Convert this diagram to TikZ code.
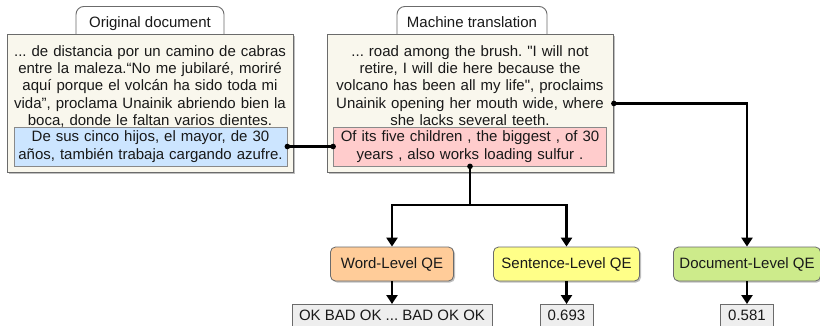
\documentclass[tikz,border=0pt]{standalone}
\usepackage{fontspec}
\setmainfont{Liberation Sans}[Ligatures=TeXOff]
\usepackage{xcolor}
\usepackage{tikz}
\usetikzlibrary{arrows.meta,shadows}
\frenchspacing
\definecolor{paper}{HTML}{F9F7ED}
\definecolor{edge}{HTML}{6B6B6B}
\definecolor{srcblue}{HTML}{CCE5FF}
\definecolor{mtpink}{HTML}{FFCCCC}
\definecolor{wordorange}{HTML}{FFCC99}
\definecolor{sentyellow}{HTML}{FFFF88}
\definecolor{docgreen}{HTML}{CDEB8B}
\definecolor{outgray}{HTML}{EEEEEE}
\tikzset{
  txt/.style={font=\fontsize{15}{17.4}\selectfont, text=black!90},
  shade/.style={drop shadow={shadow xshift=1.5pt, shadow yshift=-1.5pt, opacity=0.25, fill=black}},
  tabbox/.style={txt, draw=edge, fill=white, line width=0.9pt, rounded corners=8pt,
    anchor=north, inner xsep=0pt, inner ysep=10pt, text height=11pt, text depth=20pt},
  docbox/.style={draw=edge, fill=paper, line width=0.9pt, anchor=north west,
    minimum width=286pt, minimum height=138pt, shade},
  para/.style={txt, anchor=north, inner sep=0pt, text width=280pt, align=center},
  sentbox/.style={txt, draw=edge!80, line width=0.7pt, minimum width=273pt,
    minimum height=39pt, inner sep=0pt, text width=273pt, align=center},
  qebox/.style={txt, draw=edge, line width=0.8pt, rounded corners=5pt,
    minimum height=34pt, inner sep=0pt, shade},
  outbox/.style={txt, draw=edge, fill=outgray, line width=0.8pt, anchor=north,
    minimum height=22pt, inner sep=0pt},
  link/.style={draw=black, line width=2.4pt},
  arr/.style={link, -{Triangle[length=9pt, width=11pt]}},
  dotr/.style={fill=black},
}
\begin{document}
\begin{tikzpicture}[x=1pt, y=-1pt]
  \useasboundingbox[fill=white] (0,0) rectangle (820,325);

  % tabs behind the document boxes
  \node[tabbox, minimum width=148pt] (origtab) at (150,6) {Original document};
  \node[tabbox, minimum width=150pt] (mttab) at (472,6) {Machine translation};

  \node[docbox] (origbox) at (7,34) {};
  \node[docbox] (mtbox) at (327,34) {};

  \node[para] (origtxt) at (150,45) {... de distancia por un camino de cabras\\
    entre la maleza.“No me jubilaré, moriré\\
    aquí porque el volcán ha sido toda mi\\
    vida”, proclama Unainik abriendo bien la\\
    boca, donde le faltan varios dientes.};
  \node[para] (mttxt) at (470,45) {... road among the brush. "I will not\\
    retire, I will die here because the\\
    volcano has been all my life", proclaims\\
    Unainik opening her mouth wide, where\\
    she lacks several teeth.};

  \node[sentbox, fill=srcblue] (origsent) at (150.5,146.5)
    {De sus cinco hijos, el mayor, de 30\\ años, también trabaja cargando azufre.};
  \node[sentbox, fill=mtpink] (mtsent) at (470,146.5)
    {Of its five children , the biggest , of 30\\ years , also works loading sulfur .};

  \node[qebox, fill=wordorange, minimum width=123pt] (wordqe) at (392,264) {Word-Level QE};
  \node[qebox, fill=sentyellow, minimum width=146pt] (sentqe) at (566.5,264) {Sentence-Level QE};
  \node[qebox, fill=docgreen, minimum width=147pt] (docqe) at (747,264) {Document-Level QE};

  \node[outbox, minimum width=200pt] (wordout) at (392,304) {OK BAD OK ... BAD OK OK};
  \node[outbox, minimum width=53pt] (sentout) at (566.5,304) {0.693};
  \node[outbox, minimum width=53pt] (docout) at (747,304) {0.581};

  \coordinate (split) at (470,205);

  \draw[link] (origsent.east) -- (mtsent.west);
  \draw[link] (mtsent.south) -- (split);
  \draw[arr] (split) -| (wordqe.north);
  \draw[arr] (split) -| (sentqe.north);
  \draw[arr] (mtbox.east) -| (docqe.north);

  \draw[arr] (wordqe) -- (wordout);
  \draw[arr] (sentqe) -- (sentout);
  \draw[arr] (docqe) -- (docout);

  \fill[dotr] (origsent.east) circle (2.8);
  \fill[dotr] (mtsent.west) circle (2.8);
  \fill[dotr] (mtsent.south) circle (2.8);
  \fill[dotr] (mtbox.east) circle (2.8);
\end{tikzpicture}
\end{document}
